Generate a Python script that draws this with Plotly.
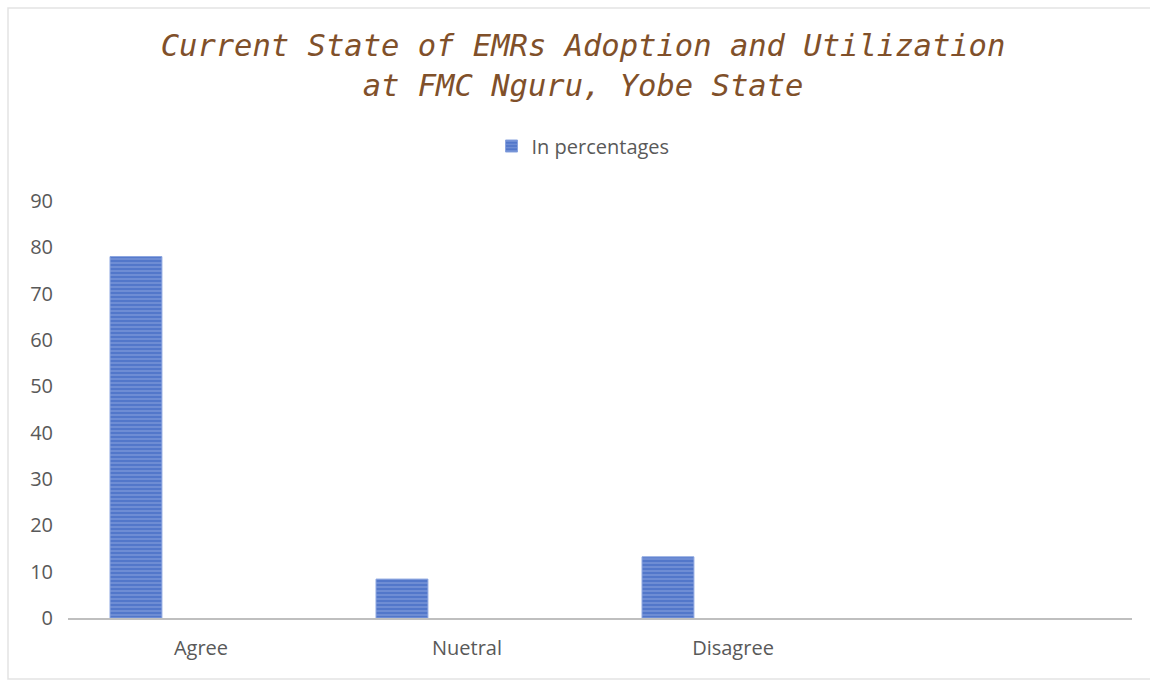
import plotly.graph_objects as go

categories = ["Agree", "Nuetral", "Disagree"]
values = [78, 8.4, 13.2]
series_name = "In percentages"
y_ticks = [0, 10, 20, 30, 40, 50, 60, 70, 80, 90]

W, H = 1150, 681
L, R, T, B = 68, 1132, 201, 618

fig = go.Figure()
fig.add_trace(go.Bar(
    x=categories, y=values, name=series_name,
    width=0.195, offset=-0.342,
    marker=dict(
        color="#5479CB",
        line=dict(color="#8AA4DF", width=1),
        pattern=dict(shape="-", fgcolor="#A3B8E8", bgcolor="#5277CA", size=4, solidity=0.35),
    ),
))

fig.update_layout(
    width=W, height=H,
    margin=dict(l=L, r=W - R, t=T, b=H - B),
    paper_bgcolor="white", plot_bgcolor="white",
    title=dict(
        text="Current State of EMRs Adoption and Utilization<br>at FMC Nguru, Yobe State",
        x=583 / W, xanchor="center", xref="container",
        y=1 - 56 / H, yanchor="middle", yref="container",
        font=dict(family="DejaVu Sans Mono", size=30.5, color="#80502A", style="italic"),
    ),
    showlegend=True,
    legend=dict(
        orientation="h", x=583 / W, xanchor="center", xref="container",
        y=1 - 146 / H, yanchor="middle", yref="container",
        font=dict(family="Open Sans", size=20, color="#595959"),
        itemwidth=30,
    ),
    xaxis=dict(
        type="category", range=[-0.5, 3.5],
        showline=True, linecolor="#BFBFBF", linewidth=2,
        showgrid=False, zeroline=False, ticks="",
        tickfont=dict(family="Open Sans", size=20, color="#595959"),
        ticklabelstandoff=11,
    ),
    yaxis=dict(
        range=[0, 90], tickvals=y_ticks,
        showgrid=False, zeroline=False, showline=False, ticks="",
        tickfont=dict(family="Open Sans", size=20, color="#595959"),
        ticklabelstandoff=14,
    ),
    shapes=[dict(
        type="rect", xref="paper", yref="paper",
        x0=(8 - L) / (R - L), x1=(1160 - L) / (R - L),
        y0=(B - 679) / (B - T), y1=(B - 8) / (B - T),
        line=dict(color="#E3E3E3", width=1.5), fillcolor="rgba(0,0,0,0)", layer="below",
    )],
)

fig.write_html("out.html")
